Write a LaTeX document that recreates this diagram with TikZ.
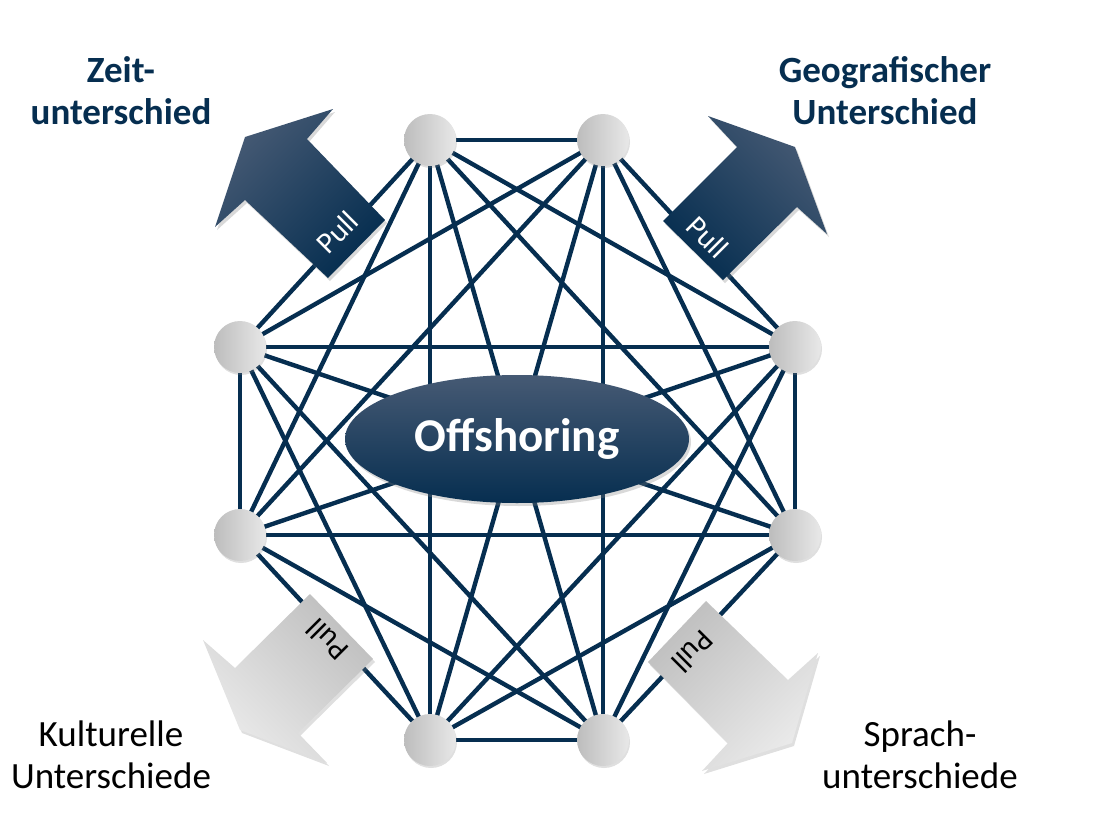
\documentclass[tikz,border=0pt]{standalone}
\usepackage{fontspec}
\setmainfont{Carlito}
\usetikzlibrary{shapes.geometric,shadows,backgrounds}
\definecolor{navy}{RGB}{6,46,80}
\definecolor{navylight}{RGB}{70,90,116}
\tikzset{
  dot/.style={circle,minimum size=26pt,inner sep=0pt,left color=black!26,right color=black!9,
    drop shadow={opacity=.25,shadow xshift=.5pt,shadow yshift=-1pt}},
  link/.style={navy,line width=2.2pt},
  hub/.style={ellipse,minimum width=172pt,minimum height=64pt,inner sep=0pt,
    top color=navylight,middle color=navy,bottom color=navy,text=white,
    font=\bfseries\fontsize{23.5}{26}\selectfont,
    drop shadow={opacity=.3,shadow xshift=1pt,shadow yshift=-1.5pt}},
  darrow/.style={top color=navylight,middle color=navy,bottom color=navy,
    drop shadow={opacity=.3,shadow xshift=1pt,shadow yshift=-1.5pt}},
  larrow/.style={top color=black!25,bottom color=black!8,
    drop shadow={opacity=.25,shadow xshift=1pt,shadow yshift=-1.5pt}},
  pull/.style={font=\fontsize{15}{17}\selectfont},
  factor/.style={align=center,font=\fontsize{18.5}{21}\selectfont}
}
\begin{document}
\begin{tikzpicture}[x=0.5pt,y=-0.5pt]
\useasboundingbox (0,0) rectangle (1105,836);
% the eight points
\node[dot] (n1) at (430,140) {};
\node[dot] (n2) at (603,140) {};
\node[dot] (n3) at (795,347) {};
\node[dot] (n4) at (795,535) {};
\node[dot] (n5) at (603,740) {};
\node[dot] (n6) at (430,740) {};
\node[dot] (n7) at (240,535) {};
\node[dot] (n8) at (240,347) {};
% every point linked with every other one
\begin{scope}[on background layer]
\foreach \i in {1,...,7}{
  \pgfmathtruncatemacro\k{\i+1}
  \foreach \j in {\k,...,8}
    \draw[link] (n\i.center)--(n\j.center);
}
\end{scope}
\node[hub] (off) at (517,439) {Offshoring};
% pull arrows
\path[darrow,shading angle=45] (245,137)--(333,109)--(307,139)--(385,220)--(328,278)--(245,200)--(215,227)--cycle;
\path[darrow,shading angle=-45] (795,147)--(827,234)--(797,207)--(723,280)--(663,221)--(737,147)--(708,116)--cycle;
\path[larrow,shading angle=-45] (240,730)--(203,640)--(235,668)--(310,594)--(373,659)--(298,733)--(327,763)--cycle;
\path[larrow,shading angle=45] (792,743)--(702,771)--(728,743)--(648,662)--(706,601)--(788,680)--(818,653)--cycle;
\node[pull,text=white,rotate=45] (pullA) at (337,232) {Pull};
\node[pull,text=white,rotate=-45] (pullB) at (708,237) {Pull};
\node[pull,rotate=135] (pullC) at (327,640) {Pull};
\node[pull,rotate=-135] (pullD) at (693,652) {Pull};
% labels
\node[factor,text=navy,font=\bfseries\fontsize{18.5}{21}\selectfont] (zeit) at (121,91) {Zeit-\\unterschied};
\node[factor,text=navy,font=\bfseries\fontsize{18.5}{21}\selectfont] (geo) at (885,91) {Geografischer\\Unterschied};
\node[factor] (kult) at (111,755) {Kulturelle\\Unterschiede};
\node[factor] (sprach) at (920,755) {Sprach-\\unterschiede};
\end{tikzpicture}
\end{document}
